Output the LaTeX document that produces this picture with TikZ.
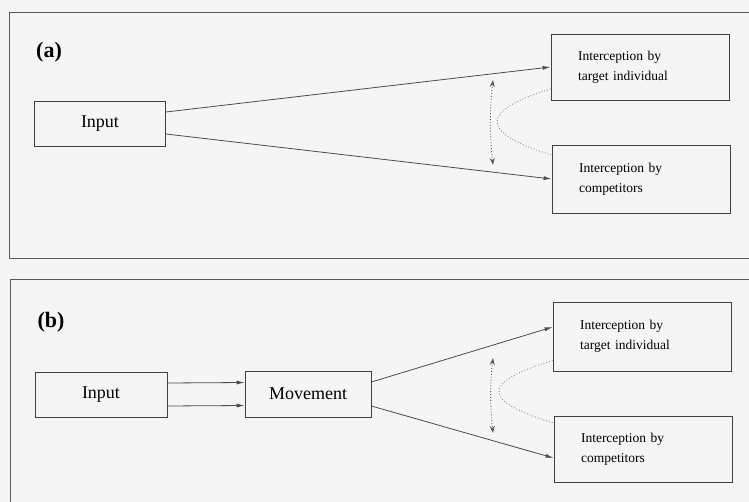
\documentclass[tikz,border=0pt]{standalone}
\usepackage{fontspec}
\setmainfont{Liberation Serif}
\usetikzlibrary{positioning}
\usetikzlibrary{arrows.meta}
\tikzset{
    frame/.style = {draw=black!65,line width=0.8pt},
    boxn/.style = {rectangle, draw=black!75, line width=0.8pt, align=center,font=\fontsize{18}{20}\selectfont},
    boxi/.style = {rectangle, draw=black!75, line width=0.8pt, align=left, text width=124pt, inner xsep=27pt,
                   minimum width=178pt, font=\fontsize{13.5}{20}\selectfont},
    tag/.style = {font=\bfseries\fontsize{22}{24}\selectfont},
    edgen/.style = {-{Latex[length=8pt,width=4pt]},line width=0.8pt,black!70},
    edged/.style = {{Stealth[length=7pt,width=5pt]}-{Stealth[length=7pt,width=5pt]},line width=0.9pt,black!65,dotted}, % both ways
    edgea/.style = {line width=0.9pt,black!45,dotted} % arc
}

\begin{document}
\begin{tikzpicture}[x=1pt,y=-1pt]
  \useasboundingbox (0,0) rectangle (749,502);
  \clip (0,0) rectangle (749,502);
  \fill[black!4] (0,0) rectangle (749,502);

  % (a)
  \draw[frame] (9,12) rectangle (770,258);
  \node[tag] (labA) at (49,52) {(a)};
  \node[boxn, minimum width=131pt, minimum height=45pt] (inA) at (100,123.5) {Input};
  \node[boxi, minimum height=66pt] (tgtA) at (640,67) {Interception by\\target individual};
  \node[boxi, minimum height=68pt] (cmpA) at (641,179) {Interception by\\competitors};
  \coordinate (upA) at (493,80);
  \coordinate (dnA) at (493,165);

  \draw[edgen] ([yshift=11.5pt]inA.east) -- (tgtA.west);
  \draw[edgen] ([yshift=-10.5pt]inA.east) -- (cmpA.west);
  \draw[edged] (upA) to[bend right=6] (dnA);
  \draw[edgea] ([yshift=-22pt]tgtA.west) .. controls +(-72,22) and +(-72,-22) .. ([yshift=24pt]cmpA.west);

  % (b)
  \draw[frame] (10,279) rectangle (770,520);
  \node[tag] (labB) at (51,322) {(b)};
  \node[boxn, minimum width=132pt, minimum height=45pt] (inB) at (101,394.5) {Input};
  \node[boxn, minimum width=126pt, minimum height=46pt] (movB) at (308,394) {Movement};
  \node[boxi, minimum height=69pt] (tgtB) at (642,336.5) {Interception by\\target individual};
  \node[boxi, minimum height=66pt] (cmpB) at (643,449) {Interception by\\competitors};
  \coordinate (upB) at (493,358);
  \coordinate (dnB) at (493,433);

  \draw[edgen] ([yshift=11.5pt]inB.east) -- ([yshift=11.5pt]movB.west);
  \draw[edgen] ([yshift=-11.5pt]inB.east) -- ([yshift=-11.5pt]movB.west);
  \draw[edgen] ([yshift=12pt]movB.east) -- ([yshift=9.5pt]tgtB.west);
  \draw[edgen] ([yshift=-12pt]movB.east) -- ([yshift=-9pt]cmpB.west);
  \draw[edged] (upB) to[bend right=6] (dnB);
  \draw[edgea] ([yshift=-24pt]tgtB.west) .. controls +(-72,22) and +(-72,-22) .. ([yshift=26pt]cmpB.west);
\end{tikzpicture}
\end{document}
